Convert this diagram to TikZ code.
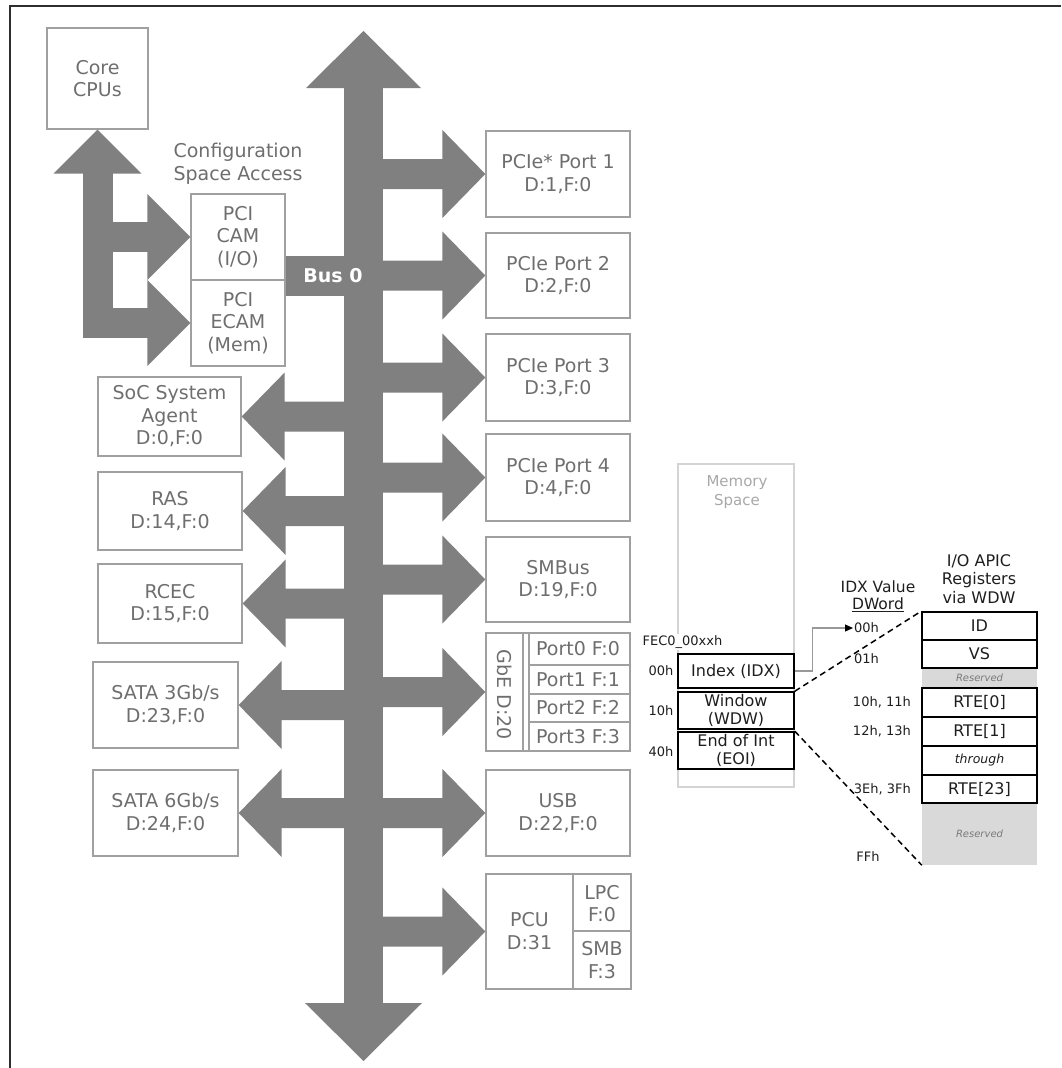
\documentclass[tikz,border=0pt]{standalone}
\usepackage{fontspec}
\setmainfont{DejaVu Sans}
\usetikzlibrary{calc,arrows.meta}
\definecolor{busgray}{HTML}{808080}
\definecolor{boxgray}{HTML}{A0A0A0}
\definecolor{txtgray}{HTML}{6E6E6E}
\definecolor{msgray}{HTML}{D4D4D4}
\definecolor{mstxt}{HTML}{A8A8A8}
\definecolor{resgray}{HTML}{D9D9D9}
\definecolor{restxt}{HTML}{7A7A7A}
\definecolor{darktxt}{HTML}{1E1E1E}
\definecolor{framecol}{HTML}{2E2E2E}
\definecolor{linkgray}{HTML}{999999}
\newcommand\mainsz{\fontsize{19}{22.5}\selectfont}
\newcommand\regsz{\fontsize{16}{18}\selectfont}
\newcommand\lblsz{\fontsize{13}{15}\selectfont}
\newcommand\rbranch[1]{\fill[bus] ($(sR |- #1.west)+(-3,-15)$) -- ($(#1.west)+(-43,-15)$) -- ($(#1.west)+(-43,-44)$) -- (#1.west) -- ($(#1.west)+(-43,44)$) -- ($(#1.west)+(-43,15)$) -- ($(sR |- #1.west)+(-3,15)$) -- cycle;}
\newcommand\lbranch[1]{\fill[bus] ($(sL |- #1.east)+(3,-15)$) -- ($(#1.east)+(43,-15)$) -- ($(#1.east)+(43,-44)$) -- (#1.east) -- ($(#1.east)+(43,44)$) -- ($(#1.east)+(43,15)$) -- ($(sL |- #1.east)+(3,15)$) -- cycle;}
\begin{document}
\begin{tikzpicture}[x=1pt,y=-1pt,
  bus/.style={fill=busgray},
  box/.style={draw=boxgray,line width=1.3pt,text=txtgray,align=center,inner sep=0pt,font=\mainsz},
  boxline/.style={draw=boxgray,line width=1.3pt},
  plain/.style={text=txtgray,align=center,inner sep=0pt,font=\mainsz},
  reg/.style={draw=black,line width=1.6pt,minimum width=115,inner sep=0pt,font=\regsz,text=darktxt,align=center},
  resv/.style={fill=resgray,minimum width=115,inner sep=0pt,text=restxt,font=\fontsize{10}{12}\selectfont\itshape},
  lbl/.style={text=darktxt,font=\lblsz,inner sep=1pt},
  dashline/.style={draw=black,line width=1.5pt,dash pattern=on 6pt off 4pt}]
\useasboundingbox (0,0) rectangle (1061,1068);
% frame
\coordinate (ftl) at (10,6);
\coordinate (ftr) at (1061,6);
\coordinate (fbl) at (10,1068);
\draw[framecol,line width=2.5pt] (ftr) -- (ftl) -- (fbl);
% shaft reference
\coordinate (sL) at (344,0);
\coordinate (sR) at (383,0);
% boxes
\node[box,minimum width=101,minimum height=101] (cpu) at (97.5,78.5) {Core\\CPUs};
\node[plain] (csa) at (238,164) {Configuration\\Space Access};
\node[box,minimum width=94,minimum height=86] (cam) at (238,237) {PCI\\CAM\\(I/O)};
\node[box,minimum width=94,minimum height=86] (ecam) at (238,323) {PCI\\ECAM\\(Mem)};
\node[box,minimum width=144,minimum height=86] (p1) at (558,174) {PCIe* Port 1\\D:1,F:0};
\node[box,minimum width=144,minimum height=85] (p2) at (558,275.5) {PCIe Port 2\\D:2,F:0};
\node[box,minimum width=144,minimum height=87] (p3) at (558,377.5) {PCIe Port 3\\D:3,F:0};
\node[box,minimum width=144,minimum height=87] (p4) at (558,477.5) {PCIe Port 4\\D:4,F:0};
\node[box,minimum width=144,minimum height=85] (smb) at (558,579.5) {SMBus\\D:19,F:0};
\node[box,minimum width=144,minimum height=118] (gbe) at (558,692) {};
\node[box,minimum width=144,minimum height=86] (usb) at (558,813) {USB\\D:22,F:0};
\node[box,minimum width=145,minimum height=115] (pcu) at (558.5,931.5) {};
\node[box,minimum width=143,minimum height=79] (soc) at (169.5,416.5) {SoC System\\Agent\\D:0,F:0};
\node[box,minimum width=144,minimum height=78] (ras) at (170,511) {RAS\\D:14,F:0};
\node[box,minimum width=144,minimum height=79] (rcec) at (170,603.5) {RCEC\\D:15,F:0};
\node[box,minimum width=145,minimum height=86] (sata3) at (165.5,705) {SATA 3Gb/s\\D:23,F:0};
\node[box,minimum width=145,minimum height=86] (sata6) at (165.5,813) {SATA 6Gb/s\\D:24,F:0};
% GbE internals
\draw[boxline] (523,633) -- (523,751);
\draw[boxline] (529,633) -- (529,751);
\draw[boxline] (529,665) -- (630,665);
\draw[boxline] (529,694) -- (630,694);
\draw[boxline] (529,722) -- (630,722);
\node[plain,rotate=-90] (gbet) at (504.5,695) {GbE D:20};
\node[plain] (port0) at (578,649) {Port0 F:0};
\node[plain] (port1) at (578,679.5) {Port1 F:1};
\node[plain] (port2) at (578,708) {Port2 F:2};
\node[plain] (port3) at (578,736.5) {Port3 F:3};
% PCU internals
\draw[boxline] (573,874) -- (573,989);
\draw[boxline] (573,931) -- (631,931);
\node[plain] (pcut) at (529.5,931) {PCU\\D:31};
\node[plain] (lpc) at (602,903.5) {LPC\\F:0};
\node[plain] (smbf) at (602,960) {SMB\\F:3};
% bus
\fill[bus] (344,86) rectangle (383,1005);
\fill[bus] (306,88) -- (363.5,31) -- (421,88) -- cycle;
\fill[bus] (305,1003) -- (363.5,1061) -- (422,1003) -- cycle;
\fill[bus] ($(cam.east |- 0,256)$) rectangle (346,296);
\node[text=white,font=\fontsize{19}{22}\selectfont\bfseries,inner sep=0pt] (bus0) at (333,275.5) {Bus 0};
% configuration space arrow
\fill[bus] (83,171) rectangle (113,338);
\fill[bus] ($(cpu.south)+(-44,44)$) -- (cpu.south) -- ($(cpu.south)+(44,44)$) -- cycle;
\fill[bus] (110,222) rectangle (149,252);
\fill[bus] ($(cam.west)+(-43,-43)$) -- (cam.west) -- ($(cam.west)+(-43,43)$) -- cycle;
\fill[bus] (110,308) rectangle (149,338);
\fill[bus] ($(ecam.west)+(-43,-43)$) -- (ecam.west) -- ($(ecam.west)+(-43,43)$) -- cycle;
% branches
\rbranch{p1}
\rbranch{p2}
\rbranch{p3}
\rbranch{p4}
\rbranch{smb}
\rbranch{gbe}
\rbranch{usb}
\rbranch{pcu}
\lbranch{soc}
\lbranch{ras}
\lbranch{rcec}
\lbranch{sata3}
\lbranch{sata6}
% memory space
\node[draw=msgray,line width=1.3pt,minimum width=116,minimum height=323,inner sep=0pt] (mem) at (736,625.5) {};
\node[text=mstxt,font=\fontsize{15}{19}\selectfont,align=center,inner sep=0pt] (memt) at (737,492.5) {Memory\\Space};
\node[reg,minimum width=116,minimum height=34] (idx) at (736,671) {Index (IDX)};
\node[reg,minimum width=116,minimum height=37] (wdw) at (736,710.5) {Window\\(WDW)};
\node[reg,minimum width=116,minimum height=37] (eoi) at (736,750.5) {End of Int\\(EOI)};
\node[lbl,fill=white,inner sep=2pt] (fec) at (682.5,642) {FEC0\_00xxh};
\node[lbl] (l00) at (661,671) {00h};
\node[lbl] (l10) at (661,711) {10h};
\node[lbl] (l40) at (661,752) {40h};
% register table
\node[resv,minimum height=20] (res1) at (979.5,678) {Reserved};
\node[resv,minimum height=62] (res2) at (979.5,834) {Reserved};
\node[reg,minimum height=28] (rid) at (979.5,626) {ID};
\node[reg,minimum height=28] (rvs) at (979.5,654) {VS};
\node[reg,minimum height=29] (rte0) at (979.5,702.5) {RTE[0]};
\node[reg,minimum height=29] (rte1) at (979.5,731.5) {RTE[1]};
\node[reg,minimum height=29,font=\fontsize{12.5}{14}\selectfont\itshape] (thr) at (979.5,760.5) {through};
\node[reg,minimum height=28] (rte23) at (979.5,789) {RTE[23]};
\node[text=darktxt,font=\fontsize{16}{18.5}\selectfont,align=center,inner sep=0pt] (apic) at (979,579) {I/O APIC\\Registers\\via WDW};
\node[text=darktxt,font=\fontsize{15.5}{18}\selectfont,inner sep=0pt] (idxv) at (878,587) {IDX Value};
\node[text=darktxt,font=\fontsize{15.5}{18}\selectfont,inner sep=0pt] (dword) at (878,605) {\underline{DWord}};
\node[lbl,anchor=west] (h00) at (853,628) {00h};
\node[lbl,anchor=west] (h01) at (853,659) {01h};
\node[lbl,anchor=east] (h10) at (912,702) {10h, 11h};
\node[lbl,anchor=east] (h12) at (912,731) {12h, 13h};
\node[lbl,anchor=east] (h3e) at (912,789) {3Eh, 3Fh};
\node[lbl] (hff) at (868,857) {FFh};
% connectors
\draw[linkgray,line width=1.2pt,-{Triangle[length=8pt,width=7pt,color=black]}] (idx.east) -- ++(18,0) |- (h00.west);
\draw[dashline] (wdw.north east) -- (rid.north west);
\draw[dashline] (eoi.north east) -- (res2.south west);
\end{tikzpicture}
\end{document}
